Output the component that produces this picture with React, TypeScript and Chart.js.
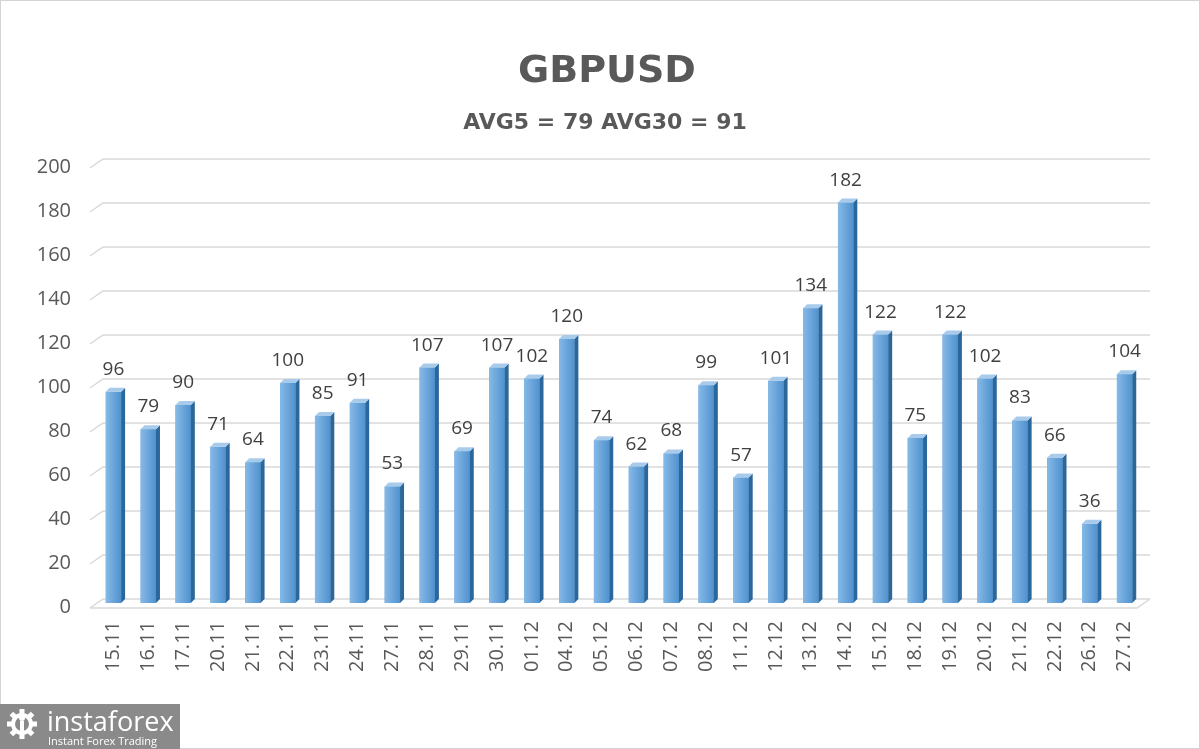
import React, { useEffect, useRef } from "react";
import { Chart, registerables } from "chart.js";

Chart.register(...registerables);

const categories = ["15.11","16.11","17.11","20.11","21.11","22.11","23.11","24.11","27.11","28.11","29.11","30.11","01.12","04.12","05.12","06.12","07.12","08.12","11.12","12.12","13.12","14.12","15.12","18.12","19.12","20.12","21.12","22.12","26.12","27.12"];
const values = [96,79,90,71,64,100,85,91,53,107,69,107,102,120,74,62,68,99,57,101,134,182,122,75,122,102,83,66,36,104];
const yTicks = [0,20,40,60,80,100,120,140,160,180,200];
const titleText = "GBPUSD";
const subtitleText = "AVG5 = 79 AVG30 = 91";

const FONT = "'Open Sans', 'Liberation Sans', sans-serif";
const TFONT = "'DejaVu Sans', 'Open Sans', sans-serif";
const DX = 4;
const DY = -4;

const decorPlugin = {
  id: "decor",
  beforeDraw(chart: any) {
    const { ctx, width, height } = chart;
    ctx.save();
    ctx.fillStyle = "#ffffff";
    ctx.fillRect(0, 0, width, height);
    ctx.strokeStyle = "#d4d4d4";
    ctx.lineWidth = 1;
    ctx.strokeRect(0.5, 0.5, width - 1, height - 1);
    ctx.fillStyle = "#595959";
    ctx.textAlign = "center";
    ctx.textBaseline = "alphabetic";
    ctx.font = `bold 38px ${TFONT}`;
    ctx.fillText(titleText, 607, 82);
    ctx.font = `bold 22px ${TFONT}`;
    ctx.fillText(subtitleText, 605, 129);
    ctx.restore();
  },
  beforeDatasetsDraw(chart: any) {
    const { ctx, chartArea, scales } = chart;
    const y = scales.y;
    ctx.save();
    ctx.strokeStyle = "#d9d9d9";
    ctx.lineWidth = 1.5;
    for (const v of yTicks) {
      const py = y.getPixelForValue(v);
      ctx.beginPath();
      ctx.moveTo(chartArea.left - 6, py + 5);
      ctx.lineTo(chartArea.left + 7, py - 4);
      ctx.lineTo(chartArea.right + 8, py - 4);
      ctx.stroke();
    }
    const p0 = y.getPixelForValue(0);
    ctx.beginPath();
    ctx.moveTo(chartArea.left - 6, p0 + 5);
    ctx.lineTo(chartArea.right - 5, p0 + 5);
    ctx.lineTo(chartArea.right + 8, p0 - 4);
    ctx.stroke();
    // y tick labels
    ctx.fillStyle = "#595959";
    ctx.font = `20px ${FONT}`;
    ctx.textAlign = "right";
    ctx.textBaseline = "middle";
    for (const v of yTicks) {
      const py = y.getPixelForValue(v);
      ctx.fillText(String(v), 71, py + 4);
    }
    ctx.restore();
  },
  afterDatasetsDraw(chart: any) {
    const { ctx } = chart;
    const meta = chart.getDatasetMeta(0);
    ctx.save();
    meta.data.forEach((bar: any, i: number) => {
      const { x, y, base, width } = bar.getProps(["x", "y", "base", "width"], true);
      if (![x, y, base, width].every((n) => Number.isFinite(n))) return;
      const l = x - width / 2;
      const r = x + width / 2;
      const g = ctx.createLinearGradient(l, 0, r, 0);
      g.addColorStop(0, "#86b9e6");
      g.addColorStop(1, "#5092cf");
      ctx.fillStyle = g;
      ctx.fillRect(l, y, width, base - y);
      ctx.fillStyle = "#2c679c";
      ctx.beginPath();
      ctx.moveTo(r, base);
      ctx.lineTo(r, y);
      ctx.lineTo(r + DX, y + DY);
      ctx.lineTo(r + DX, base + DY);
      ctx.closePath();
      ctx.fill();
      ctx.fillStyle = "#a8cbec";
      ctx.beginPath();
      ctx.moveTo(l, y);
      ctx.lineTo(r, y);
      ctx.lineTo(r + DX, y + DY);
      ctx.lineTo(l + DX, y + DY);
      ctx.closePath();
      ctx.fill();
      ctx.fillStyle = "#404040";
      ctx.font = `19px ${FONT}`;
      ctx.textAlign = "center";
      ctx.textBaseline = "alphabetic";
      ctx.fillText(String(values[i]), x, y - 17);
    });
    ctx.restore();
  },
  afterDraw(chart: any) {
    const { ctx, height } = chart;
    ctx.save();
    ctx.fillStyle = "#8a8a8a";
    ctx.fillRect(0, height - 45, 180, 45);
    const cx = 22, cy = height - 25;
    ctx.fillStyle = "#ffffff";
    for (let k = 0; k < 8; k++) {
      const a = (k * Math.PI) / 4;
      ctx.save();
      ctx.translate(cx, cy);
      ctx.rotate(a);
      ctx.fillRect(-2.5, -15, 5, 6);
      ctx.restore();
    }
    ctx.beginPath();
    ctx.arc(cx, cy, 11, 0, Math.PI * 2);
    ctx.fill();
    ctx.fillStyle = "#8a8a8a";
    ctx.beginPath();
    ctx.arc(cx, cy, 7, 0, Math.PI * 2);
    ctx.fill();
    ctx.fillStyle = "#ffffff";
    ctx.fillRect(cx - 2, cy - 3, 4, 14);
    ctx.beginPath();
    ctx.arc(cx, cy - 6, 3, 0, Math.PI * 2);
    ctx.fill();
    ctx.font = `27px ${FONT}`;
    ctx.textAlign = "left";
    ctx.textBaseline = "alphabetic";
    ctx.fillText("instaforex", 47, height - 18);
    ctx.font = `11px ${FONT}`;
    ctx.fillText("Instant Forex Trading", 48, height - 4);
    ctx.restore();
  },
};

export default function App() {
  const ref = useRef<HTMLCanvasElement | null>(null);
  useEffect(() => {
    if (!ref.current) return;
    const chart = new Chart(ref.current, {
      type: "bar",
      data: {
        labels: categories,
        datasets: [
          {
            data: values,
            backgroundColor: "#5b9bd5",
            borderWidth: 0,
            barPercentage: 0.44,
            categoryPercentage: 1,
          },
        ],
      },
      options: {
        responsive: false,
        animation: false,
        layout: { padding: { top: 163, right: 58, left: 0, bottom: 0 } },
        plugins: { legend: { display: false }, title: { display: false }, tooltip: { enabled: false } },
        scales: {
          y: {
            min: 0,
            max: 200,
            afterFit: (s: any) => { s.width = 96; },
            grid: { display: false },
            border: { display: false },
            ticks: {
              stepSize: 20,
              display: false,
            },
          },
          x: {
            afterFit: (s: any) => { s.height = 749 - 603; },
            grid: { display: false },
            border: { display: false },
            ticks: {
              minRotation: 90,
              maxRotation: 90,
              padding: 10,
              color: "#595959",
              font: { family: FONT, size: 20 },
            },
          },
        },
      },
      plugins: [decorPlugin],
    });
    return () => chart.destroy();
  }, []);
  return (
    <div style={{ position: "absolute", left: 0, top: 0, width: 1200, height: 749 }}>
      <canvas ref={ref} width={1200} height={749} style={{ display: "block" }} />
    </div>
  );
}
